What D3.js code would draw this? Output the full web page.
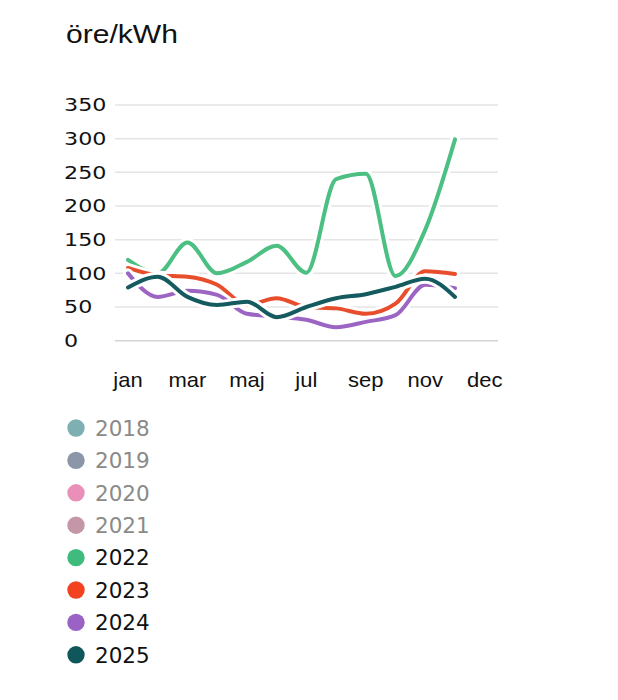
<!DOCTYPE html>
<html>
<head>
<meta charset="utf-8">
<script src="https://cdn.jsdelivr.net/npm/d3@7"></script>
<style>
  html, body { margin: 0; padding: 0; background: #fff; }
  svg { display: block; }
</style>
</head>
<body>
<div id="chart"></div>
<script>
// ---- data ----
const months = ["jan","feb","mar","apr","maj","jun","jul","aug","sep","okt","nov","dec"];
const xTickLabels = ["jan","mar","maj","jul","sep","nov","dec"];
const xTickIndex = [0, 2, 4, 6, 8, 10, 12];
const yTicks = [0, 50, 100, 150, 200, 250, 300, 350];
const legendYears = ["2018","2019","2020","2021","2022","2023","2024","2025"];
const legendActive = [false, false, false, false, true, true, true, true];
const legendColors = ["#7eafb2","#8b97a8","#e98fb8","#c496a8","#3fbb7d","#f2421f","#9a62c4","#10575b"];
const values2022 = [120, 100, 146, 100, 117, 141, 101, 240, 248, 96, 165, 299];
const values2023 = [108, 97, 95, 83, 53, 63, 50, 48, 40, 55, 103, 99];
const values2024 = [100, 65, 74, 68, 40, 36, 31, 20, 28, 38, 83, 78];
const values2025 = [79, 95, 65, 53, 58, 35, 50, 63, 69, 80, 92, 65];
const seriesYears = ["2022","2023","2024","2025"];
const seriesValues = [values2022, values2023, values2024, values2025];
const seriesColors = ["#4cbf82","#e84e2c","#9c65c4","#145a5e"];

// ---- layout ----
const W = 618, H = 700;
const gridLeft = 115, gridRight = 498;
const svg = d3.select("#chart").append("svg").attr("width", W).attr("height", H);

const x = d3.scaleLinear().domain([0, 11]).range([128, 455]);
const y = d3.scaleLinear().domain([0, 350]).range([340.7, 105]);

// title
svg.append("text")
  .attr("transform", "translate(66,43) scale(1.18,1)")
  .attr("font-family", "Liberation Sans, Arial, sans-serif")
  .attr("font-size", 25.5)
  .attr("fill", "#111")
  .text("öre/kWh");

// grid
svg.append("g").selectAll("line").data(yTicks).join("line")
  .attr("x1", gridLeft).attr("x2", gridRight)
  .attr("y1", d => y(d)).attr("y2", d => y(d))
  .attr("stroke", d => d === 0 ? "#d4d4d4" : "#e4e4e4")
  .attr("stroke-width", 1.5);

// y labels
svg.append("g").selectAll("text").data(yTicks).join("text")
  .attr("transform", d => `translate(64,${y(d)}) scale(1.27,1)`)
  .attr("dy", "0.36em")
  .attr("font-family", "DejaVu Sans, sans-serif")
  .attr("font-size", 17.5)
  .attr("fill", "#111")
  .text(d => d);

// x labels
svg.append("g").selectAll("text").data(xTickIndex).join("text")
  .attr("transform", d => `translate(${x(d)},387) scale(1.1,1)`)
  .attr("text-anchor", "middle")
  .attr("font-family", "Liberation Sans, Arial, sans-serif")
  .attr("font-size", 20)
  .attr("fill", "#111")
  .text((d, i) => xTickLabels[i]);

// lines
const line = d3.line()
  .x((d, i) => x(i))
  .y(d => y(d))
  .curve(d3.curveMonotoneX);

const lg = svg.append("g");
seriesValues.forEach((vals, k) => {
  lg.append("path")
    .attr("d", line(vals))
    .attr("fill", "none")
    .attr("stroke", "#fff")
    .attr("stroke-width", 10)
    .attr("stroke-linejoin", "round")
    .attr("stroke-linecap", "round");
  lg.append("path")
    .attr("d", line(vals))
    .attr("fill", "none")
    .attr("stroke", seriesColors[k])
    .attr("stroke-width", 4)
    .attr("stroke-linejoin", "round")
    .attr("stroke-linecap", "round");
});

// legend
const leg = svg.append("g").selectAll("g").data(legendYears).join("g")
  .attr("transform", (d, i) => `translate(0,${428 + i * 32.4})`);
leg.append("circle")
  .attr("cx", 76).attr("cy", 0).attr("r", 8.7)
  .attr("fill", (d, i) => legendColors[i]);
leg.append("text")
  .attr("x", 95).attr("y", 0).attr("dy", "0.36em")
  .attr("font-family", "DejaVu Sans, sans-serif")
  .attr("font-size", 21.5)
  .attr("fill", (d, i) => legendActive[i] ? "#111" : "#8a8a8a")
  .text(d => d);
</script>
</body>
</html>
